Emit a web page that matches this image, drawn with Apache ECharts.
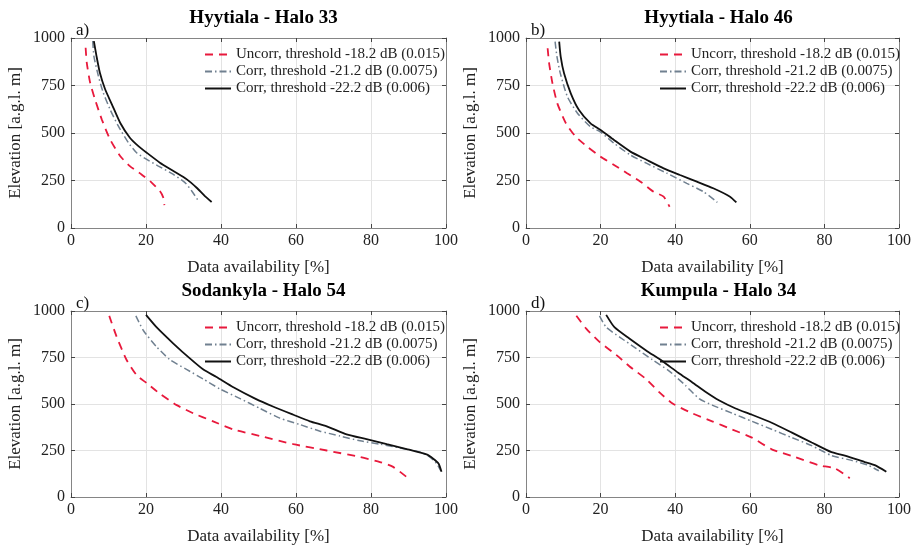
<!DOCTYPE html>
<html>
<head>
<meta charset="utf-8">
<script src="https://cdn.jsdelivr.net/npm/echarts@6/dist/echarts.min.js"></script>
<style>
html,body{margin:0;padding:0;background:#fff;}
#chart{width:914px;height:546px;}
</style>
</head>
<body>
<div id="chart"></div>
<script>
// ---- Data (x = data availability %, y = elevation m) ----
const panelTitles = ["Hyytiala - Halo 33", "Hyytiala - Halo 46", "Sodankyla - Halo 54", "Kumpula - Halo 34"];
const panelLetters = ["a)", "b)", "c)", "d)"];
const seriesNames = ["Uncorr, threshold -18.2 dB (0.015)", "Corr, threshold -21.2 dB (0.0075)", "Corr, threshold -22.2 dB (0.006)"];
const xTicks = [0, 20, 40, 60, 80, 100];
const yTicks = [0, 250, 500, 750, 1000];

const aUncorr = [[3.9,949],[4.2,870],[5.1,765],[6.4,677],[8.2,572],[10.4,467],[13.1,379],[15.7,326],[18.8,282],[21.5,239],[23.7,195],[24.6,160],[24.9,120]];
const aCorr75 = [[5.8,984],[6.1,905],[7.3,800],[8.6,712],[10.4,625],[12.6,537],[15.3,449],[17.5,396],[20.2,361],[23.3,326],[27.3,282],[30.4,239],[32.2,195],[34.0,142]];
const aCorr6  = [[6.1,984],[6.8,905],[7.7,817],[9.1,730],[10.9,651],[13.1,554],[15.7,475],[17.9,432],[20.2,396],[23.7,344],[27.3,300],[30.9,256],[33.5,212],[35.7,168],[37.5,137]];

const bUncorr = [[5.8,946],[6.2,867],[7.1,761],[8.4,656],[10.7,551],[13.3,481],[16.4,428],[20.0,375],[23.6,332],[27.1,288],[30.7,244],[34.2,191],[36.9,165],[38.5,112]];
const bCorr75 = [[7.8,981],[8.3,902],[9.2,814],[11.1,691],[13.8,604],[17.3,533],[20.0,505],[23.6,446],[28.0,384],[32.4,340],[37.8,288],[43.1,235],[47.6,191],[51.3,135]];
const bCorr6  = [[8.9,981],[9.3,902],[10.2,814],[12.0,709],[14.2,621],[17.3,551],[20.0,516],[23.6,463],[28.0,402],[32.4,358],[36.9,314],[41.3,279],[45.8,244],[50.2,209],[54.7,165],[56.4,135]];

const cUncorr = [[10.2,974],[12.2,860],[14.8,738],[17.5,655],[20.2,612],[23.7,555],[28.2,494],[32.6,450],[37.9,407],[43.3,363],[50.4,328],[59.3,284],[68.2,250],[77.1,215],[82.4,188],[85.9,162],[89.9,101]];
const cCorr75 = [[17.3,974],[19.3,895],[22.8,808],[26.4,738],[30.8,686],[35.3,634],[39.7,581],[45.1,529],[50.4,476],[55.7,424],[61.1,389],[66.4,354],[71.7,328],[77.1,302],[82.4,284],[87.7,264],[93.1,241],[95.7,215],[97.5,180],[98.6,141]];
const cCorr6  = [[20.0,979],[22.8,913],[27.3,825],[31.7,745],[35.3,685],[38.8,645],[43.3,590],[49.1,529],[54.0,485],[59.3,442],[63.7,407],[68.2,380],[73.5,337],[78.8,311],[84.2,284],[89.5,258],[94.8,229],[96.6,206],[98.0,180],[98.8,136]];

const dUncorr = [[13.5,974],[16.2,904],[19.7,834],[24.2,764],[27.7,703],[32.2,634],[35.7,564],[39.3,503],[44.6,450],[49.9,407],[55.3,363],[60.6,319],[66.0,255],[72.2,215],[78.4,171],[82.8,154],[86.8,101]];
const dCorr75 = [[19.7,974],[21.5,913],[25.1,860],[29.5,799],[33.9,738],[38.4,677],[42.8,599],[46.4,529],[49.9,494],[55.3,450],[60.6,407],[66.0,363],[71.3,319],[76.6,276],[81.9,223],[87.3,197],[91.7,171],[94.6,141]];
const dCorr6  = [[21.5,979],[23.7,913],[27.7,852],[32.2,788],[36.6,730],[40.8,668],[44.6,616],[48.2,564],[51.7,520],[56.2,476],[60.6,442],[66.0,398],[71.3,346],[76.6,293],[81.9,241],[85.5,223],[90.8,188],[93.5,171],[96.6,136]];

const panelData = [[aUncorr,aCorr75,aCorr6],[bUncorr,bCorr75,bCorr6],[cUncorr,cCorr75,cCorr6],[dUncorr,dCorr75,dCorr6]];

// ---- Layout / styles ----
const FONT = '"Liberation Serif", "DejaVu Serif", serif';
const grids = [
  {left:71, top:38, width:375, height:190},
  {left:526, top:38, width:375, height:190},
  {left:71, top:311, width:375, height:190},
  {left:526, top:311, width:375, height:190}
];
const lineStyles = [
  {color:'#e8193c', width:1.8, type:[8,6]},
  {color:'#708090', width:1.5, type:[7,3,1.5,3]},
  {color:'#111111', width:1.8, type:'solid'}
];

const chart = echarts.init(document.getElementById('chart'), null, {renderer:'canvas'});
const option = {
  backgroundColor:'#ffffff',
  animation:false,
  grid: grids.map(g => Object.assign({containLabel:false}, g)),
  title: [],
  legend: [],
  xAxis: [],
  yAxis: [],
  series: []
};

grids.forEach((g, i) => {
  option.title.push({
    text: panelTitles[i], left: g.left + g.width/2, top: g.top - 34, textAlign:'center',
    textStyle:{fontFamily:FONT, fontSize:19, fontWeight:'bold', color:'#000'}
  });
  option.title.push({
    text: panelLetters[i], left: g.left, top: g.top - 21,
    textStyle:{fontFamily:FONT, fontSize:17, fontWeight:'normal', color:'#111'}
  });
  option.xAxis.push({
    type:'value', gridIndex:i, min:0, max:100, interval:20, position:'bottom',
    name:'Data availability [%]', nameLocation:'middle', nameGap:31,
    nameTextStyle:{fontFamily:FONT, fontSize:17, color:'#222'},
    axisLine:{show:true, onZero:false, lineStyle:{color:'#858585', width:1}},
    axisTick:{show:true, inside:true, length:4, lineStyle:{color:'#444'}},
    axisLabel:{fontFamily:FONT, fontSize:16, color:'#222', margin:5, formatter: v => String(v)},
    splitLine:{show:true, lineStyle:{color:'#e3e3e3', width:1}}
  });
  option.yAxis.push({
    type:'value', gridIndex:i, min:0, max:1000, interval:250, position:'left',
    name:'Elevation [a.g.l. m]', nameLocation:'middle', nameGap:47,
    nameTextStyle:{fontFamily:FONT, fontSize:17, color:'#222'},
    axisLine:{show:true, onZero:false, lineStyle:{color:'#858585', width:1}},
    axisTick:{show:true, inside:true, length:4, lineStyle:{color:'#444'}},
    axisLabel:{fontFamily:FONT, fontSize:16, color:'#222', margin:6, formatter: v => String(v)},
    splitLine:{show:true, lineStyle:{color:'#e3e3e3', width:1}}
  });
});
grids.forEach((g, i) => {
  option.xAxis.push({
    type:'value', gridIndex:i, min:0, max:100, interval:20, position:'top',
    axisLine:{show:true, onZero:false, lineStyle:{color:'#858585', width:1}},
    axisTick:{show:true, inside:true, length:4, lineStyle:{color:'#444'}},
    axisLabel:{show:false}, splitLine:{show:false}
  });
  option.yAxis.push({
    type:'value', gridIndex:i, min:0, max:1000, interval:250, position:'right',
    axisLine:{show:true, onZero:false, lineStyle:{color:'#858585', width:1}},
    axisTick:{show:true, inside:true, length:4, lineStyle:{color:'#444'}},
    axisLabel:{show:false}, splitLine:{show:false}
  });
});

grids.forEach((g, i) => {
  seriesNames.forEach((nm, k) => {
    option.series.push({
      name: nm, type:'line', xAxisIndex:i, yAxisIndex:i,
      data: panelData[i][k], symbol:'none', smooth:0.2, showSymbol:false,
      lineStyle: lineStyles[k], itemStyle:{color: lineStyles[k].color}, z: 3 + k
    });
  });
  option.legend.push({
    show:true,
    data: seriesNames, orient:'vertical',
    left: g.left + 133, top: g.top + 9,
    itemWidth: 26, itemHeight: 12, itemGap: 2,
    itemStyle:{opacity:0},
    textStyle:{fontFamily:FONT, fontSize:15, color:'#222'},
    padding:0, selectedMode:false
  });
});

chart.setOption(option);
</script>
</body>
</html>
